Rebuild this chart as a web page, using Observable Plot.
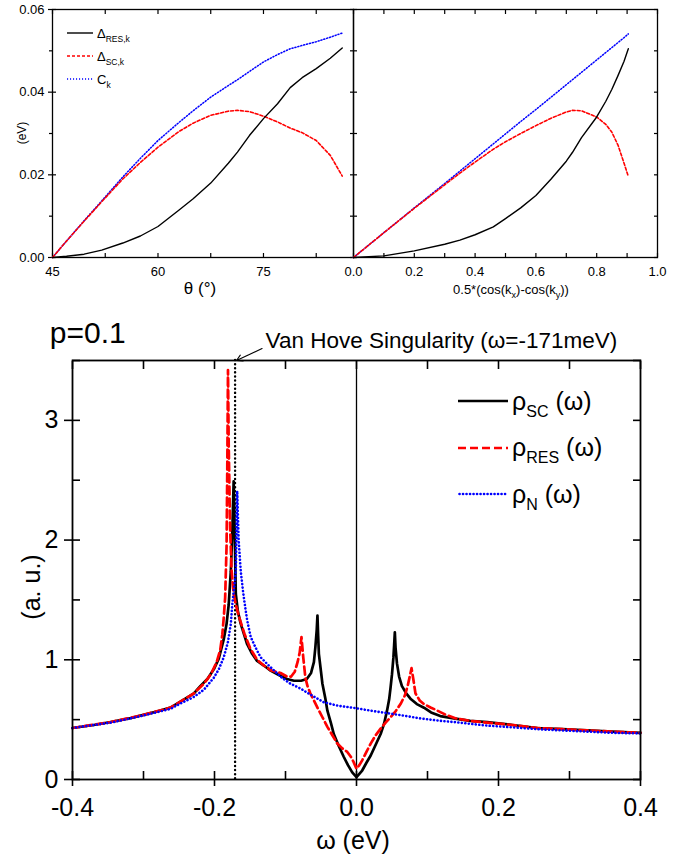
<!DOCTYPE html>
<html><head><meta charset="utf-8">
<script src="https://cdn.jsdelivr.net/npm/d3@7"></script>
<script src="https://cdn.jsdelivr.net/npm/@observablehq/plot@0.6"></script>
<style>
body{margin:0;background:#fff;}
#wrap{position:relative;width:691px;height:858px;overflow:hidden;font-family:"Liberation Sans",Arial,sans-serif;color:#000;}
.lbl{position:absolute;transform:translate(-50%,-50%);white-space:nowrap;line-height:1;}
.rot{transform:translate(-50%,-50%) rotate(-90deg);}
.row{position:absolute;left:0;display:flex;align-items:center;white-space:nowrap;line-height:1;}
.sub{position:relative;}
</style></head>
<body><div id="wrap"></div>
<script>
// ---------- Top-left panel: gap functions vs Fermi-surface angle θ ----------
const theta   = [45, 47, 49.5, 52, 55, 57.5, 60, 63, 65, 67.5, 70, 71.3, 73, 75, 77, 78.8, 80.5, 82.5, 84.5, 86.2];
const dResTheta = [0, 0.0003, 0.0008, 0.0018, 0.0035, 0.0052, 0.0075, 0.0115, 0.0142, 0.0180, 0.0228, 0.0255, 0.0295, 0.0336, 0.0372, 0.0411, 0.0435, 0.0457, 0.0482, 0.0507];
const dScTheta  = [0, 0.0040, 0.0088, 0.0135, 0.0190, 0.0230, 0.0267, 0.0305, 0.0325, 0.0344, 0.0354, 0.0356, 0.0353, 0.0342, 0.0328, 0.0313, 0.0302, 0.0283, 0.0247, 0.0197];
const ckTheta   = [0, 0.0040, 0.0089, 0.0137, 0.0195, 0.0240, 0.0283, 0.0327, 0.0355, 0.0388, 0.0416, 0.0430, 0.0450, 0.0473, 0.0491, 0.0505, 0.0513, 0.0522, 0.0533, 0.0543];
const thetaTicks  = [45, 52.5, 60, 67.5, 75, 82.5];
const thetaLabels = [45, 60, 75];
const thetaDomain = [45, 87.8];

// ---------- Top-right panel: vs 0.5*(cos kx - cos ky) ----------
const uVals   = [0, 0.1, 0.2, 0.3, 0.35, 0.4, 0.46, 0.5, 0.55, 0.6, 0.65, 0.7, 0.72, 0.75, 0.8, 0.83, 0.85, 0.87, 0.89, 0.904];
const dResU   = [0, 0.0004, 0.0016, 0.0032, 0.0042, 0.0055, 0.0074, 0.0094, 0.0120, 0.0150, 0.0190, 0.0233, 0.0254, 0.0290, 0.0340, 0.0378, 0.0407, 0.0440, 0.0475, 0.0505];
const dScU    = [0, 0.0060, 0.0119, 0.0176, 0.0204, 0.0231, 0.0262, 0.0280, 0.0300, 0.0319, 0.0337, 0.0352, 0.0356, 0.0355, 0.0340, 0.0322, 0.0303, 0.0272, 0.0228, 0.0196];
const ckU     = [0, 0.0060, 0.0120, 0.0179, 0.0209, 0.0239, 0.0275, 0.0299, 0.0329, 0.0358, 0.0388, 0.0418, 0.0430, 0.0448, 0.0478, 0.0496, 0.0508, 0.0520, 0.0532, 0.0541];
const uTicks  = [0, 0.1, 0.2, 0.3, 0.4, 0.5, 0.6, 0.7, 0.8, 0.9, 1.0];
const uLabels = [0, 0.2, 0.4, 0.6, 0.8, 1.0];

const gapMajor = [0, 0.02, 0.04, 0.06];
const gapMinor = [0.01, 0.03, 0.05];
const gapAll   = [0, 0.01, 0.02, 0.03, 0.04, 0.05, 0.06];

// ---------- Bottom panel: density of states, p = 0.1 ----------
const omegaSC = [-0.400,-0.370,-0.346,-0.320,-0.300,-0.280,-0.262,-0.248,-0.229,-0.220,-0.210,-0.201,-0.194,-0.187,-0.183,-0.180,-0.177,-0.175,-0.173,-0.171,-0.170,-0.167,-0.163,-0.154,-0.147,-0.140,-0.130,-0.121,-0.110,-0.098,-0.088,-0.078,-0.070,-0.064,-0.060,-0.058,-0.056,-0.055,-0.054,-0.053,-0.050,-0.048,-0.044,-0.041,-0.036,-0.032,-0.025,-0.018,-0.012,-0.006,0.000,0.008,0.014,0.020,0.027,0.034,0.039,0.043,0.046,0.048,0.050,0.052,0.053,0.054,0.055,0.057,0.060,0.064,0.070,0.076,0.085,0.095,0.105,0.118,0.137,0.160,0.184,0.220,0.255,0.290,0.325,0.360,0.400];
const rhoSC   = [0.43,0.455,0.48,0.51,0.54,0.57,0.60,0.65,0.72,0.78,0.84,0.92,1.01,1.17,1.30,1.46,1.74,2.05,2.49,1.90,1.55,1.40,1.30,1.13,1.05,0.99,0.95,0.91,0.875,0.84,0.825,0.825,0.84,0.89,0.98,1.10,1.25,1.37,1.20,1.05,0.90,0.80,0.68,0.575,0.47,0.38,0.28,0.19,0.12,0.06,0.02,0.075,0.14,0.20,0.29,0.38,0.47,0.575,0.67,0.77,0.88,1.02,1.12,1.23,1.10,0.97,0.86,0.78,0.72,0.675,0.63,0.60,0.56,0.53,0.51,0.49,0.48,0.455,0.43,0.42,0.41,0.40,0.39];

const omegaRES = [-0.400,-0.346,-0.300,-0.262,-0.248,-0.229,-0.215,-0.205,-0.197,-0.192,-0.189,-0.187,-0.185,-0.183,-0.182,-0.181,-0.180,-0.178,-0.176,-0.173,-0.170,-0.165,-0.158,-0.150,-0.140,-0.130,-0.120,-0.107,-0.098,-0.092,-0.087,-0.083,-0.080,-0.0775,-0.075,-0.072,-0.069,-0.065,-0.055,-0.048,-0.041,-0.034,-0.027,-0.020,-0.013,-0.008,-0.004,0.000,0.004,0.008,0.014,0.020,0.027,0.034,0.041,0.048,0.055,0.062,0.068,0.072,0.075,0.0775,0.080,0.083,0.089,0.095,0.105,0.114,0.126,0.140,0.160,0.184,0.220,0.255,0.290,0.325,0.360,0.400];
const rhoRES   = [0.43,0.48,0.54,0.60,0.65,0.72,0.80,0.88,0.98,1.08,1.21,1.35,1.52,1.95,2.60,3.42,2.80,2.10,1.75,1.55,1.46,1.35,1.22,1.10,1.00,0.95,0.91,0.89,0.86,0.86,0.90,0.98,1.06,1.19,1.02,0.85,0.78,0.72,0.60,0.52,0.44,0.37,0.30,0.26,0.23,0.19,0.145,0.09,0.12,0.16,0.23,0.30,0.37,0.425,0.475,0.52,0.57,0.63,0.70,0.78,0.86,0.93,0.84,0.72,0.66,0.63,0.60,0.575,0.54,0.51,0.49,0.475,0.455,0.43,0.42,0.41,0.40,0.39];

const omegaN = [-0.400,-0.346,-0.300,-0.262,-0.248,-0.229,-0.215,-0.201,-0.194,-0.187,-0.181,-0.177,-0.175,-0.172,-0.170,-0.168,-0.166,-0.163,-0.160,-0.158,-0.154,-0.149,-0.142,-0.135,-0.125,-0.116,-0.105,-0.093,-0.079,-0.065,-0.046,-0.025,0.000,0.025,0.048,0.070,0.090,0.118,0.137,0.160,0.184,0.220,0.255,0.290,0.325,0.360,0.400];
const rhoN   = [0.43,0.475,0.535,0.59,0.635,0.69,0.75,0.85,0.92,1.02,1.15,1.30,1.46,1.62,1.74,2.41,2.00,1.74,1.58,1.49,1.33,1.19,1.10,1.02,0.96,0.91,0.85,0.80,0.76,0.71,0.645,0.615,0.595,0.57,0.55,0.53,0.51,0.49,0.48,0.465,0.45,0.435,0.42,0.41,0.40,0.39,0.385];

const vhsOmega = [-0.171];
const zeroOmega = [0];
const omegaMajor = [-0.4, -0.2, 0, 0.2, 0.4];
const omegaAll   = [-0.4, -0.3, -0.2, -0.1, 0, 0.1, 0.2, 0.3, 0.4];
const rhoMajor   = [0, 1, 2, 3];
const rhoAll     = [0, 0.5, 1, 1.5, 2, 2.5, 3, 3.5];

// annotations (data coordinates)
const pLabel   = [{w: -0.432, r: 3.73, t: "p=0.1"}];
const vhsLabel = [{w: -0.128, r: 3.665, t: "Van Hove Singularity (\u03c9=-171meV)"}];
const vhsArrow = [{w1: -0.133, r1: 3.60, w2: -0.169, r2: 3.50}];

const FONT = "'Liberation Sans', Arial, sans-serif";
const wrap = document.getElementById("wrap");
const none = () => "";
const zip = (xs, ys) => xs.map((x, i) => ({x, y: ys[i]}));

// inward / outward tick helpers (tick marks only, no labels)
const outL = (ticks, s, w = 1) => Plot.axisY({ticks, tickSize: s, tickFormat: none, label: null, strokeWidth: w});
const inL  = (ticks, s, w = 1) => Plot.axisY({ticks, tickSize: s, dx: s, tickFormat: none, label: null, strokeWidth: w});
const inR  = (ticks, s, w = 1) => Plot.axisY({anchor: "right", ticks, tickSize: s, dx: -s, tickFormat: none, label: null, strokeWidth: w});
const outB = (ticks, s, w = 1) => Plot.axisX({ticks, tickSize: s, tickFormat: none, label: null, strokeWidth: w});
const inB  = (ticks, s, w = 1) => Plot.axisX({ticks, tickSize: s, dy: -s, tickFormat: none, label: null, strokeWidth: w});
const inT  = (ticks, s, w = 1) => Plot.axisX({anchor: "top", ticks, tickSize: s, dy: s, tickFormat: none, label: null, strokeWidth: w});

function place(svg, left, top) {
  svg.style.position = "absolute";
  svg.style.left = left + "px";
  svg.style.top = top + "px";
  wrap.appendChild(svg);
}

const topLines = (xs, res, sc, ck) => [
  Plot.line(zip(xs, ck), {x: "x", y: "y", stroke: "#0000ff", strokeWidth: 1.5, strokeDasharray: "1.1,1.9"}),
  Plot.line(zip(xs, sc), {x: "x", y: "y", stroke: "#ff0000", strokeWidth: 1.6, strokeDasharray: "3,2"}),
  Plot.line(zip(xs, res), {x: "x", y: "y", stroke: "#000", strokeWidth: 1.4})
];

// Top-left
const tl = Plot.plot({
  width: 360, height: 300, marginLeft: 52, marginRight: 7, marginTop: 9, marginBottom: 43,
  x: {domain: thetaDomain}, y: {domain: [0, 0.06]},
  style: {fontFamily: FONT, fontSize: "13px", color: "#000", background: "transparent", overflow: "visible"},
  marks: [
    outL(gapMajor, 4, 1.2), inL(gapMajor, 4, 1.2), outL(gapMinor, 3, 1.2),
    Plot.axisY({ticks: gapMajor, tickSize: 0, tickPadding: 8, tickFormat: d => d.toFixed(2), label: null}),
    inR(gapAll, 4, 1.2),
    inB(thetaTicks, 4, 1.2), inT(thetaTicks, 4, 1.2),
    Plot.axisX({ticks: thetaLabels, tickSize: 0, tickPadding: 9, tickFormat: d => String(d), label: null}),
    Plot.frame({stroke: "#000", strokeWidth: 1.3}),
    ...topLines(theta, dResTheta, dScTheta, ckTheta)
  ]
});
place(tl, 0, 0);

// Top-right
const tr = Plot.plot({
  width: 351, height: 300, marginLeft: 13, marginRight: 34, marginTop: 9, marginBottom: 43,
  x: {domain: [0, 1]}, y: {domain: [0, 0.06]},
  style: {fontFamily: FONT, fontSize: "13px", color: "#000", background: "transparent", overflow: "visible"},
  marks: [
    inL(gapAll, 4, 1.2), inR(gapAll, 4, 1.2),
    inB(uTicks, 4, 1.2), inT(uTicks, 4, 1.2),
    Plot.axisX({ticks: uLabels, tickSize: 0, tickPadding: 9, tickFormat: d => d.toFixed(1), label: null}),
    Plot.frame({stroke: "#000", strokeWidth: 1.3}),
    ...topLines(uVals, dResU, dScU, ckU)
  ]
});
place(tr, 340, 0);

// Bottom
const bt = Plot.plot({
  width: 691, height: 558, marginLeft: 72, marginRight: 51, marginTop: 60, marginBottom: 79,
  x: {domain: [-0.4, 0.4]}, y: {domain: [0, 3.5]},
  style: {fontFamily: FONT, fontSize: "25px", color: "#000", background: "transparent", overflow: "visible"},
  marks: [
    outL(rhoMajor, 8, 1.6), inL(rhoAll, 8, 1.6),
    Plot.axisY({ticks: rhoMajor, tickSize: 0, tickPadding: 14, tickFormat: d => String(d), label: null}),
    inR(rhoAll, 8, 1.6),
    outB(omegaMajor, 7, 1.6), inB(omegaAll, 8, 1.6), inT(omegaAll, 8, 1.6),
    Plot.axisX({ticks: omegaMajor, tickSize: 0, tickPadding: 19, tickFormat: d => d.toFixed(1), label: null}),
    Plot.ruleX(zeroOmega, {stroke: "#000", strokeWidth: 1.3}),
    Plot.ruleX(vhsOmega, {stroke: "#000", strokeWidth: 2.4, strokeDasharray: "0.1,4", strokeLinecap: "round"}),
    Plot.line(zip(omegaSC, rhoSC), {x: "x", y: "y", stroke: "#000", strokeWidth: 2.7}),
    Plot.line(zip(omegaRES, rhoRES), {x: "x", y: "y", stroke: "#ff0000", strokeWidth: 2.7, strokeDasharray: "8,4"}),
    Plot.line(zip(omegaN, rhoN), {x: "x", y: "y", stroke: "#0000ff", strokeWidth: 2.6, strokeDasharray: "0.1,3.4", strokeLinecap: "round"}),
    Plot.frame({stroke: "#000", strokeWidth: 1.8}),
    Plot.text(pLabel, {x: "w", y: "r", text: "t", textAnchor: "start", lineAnchor: "middle", fontSize: 30, fill: "#000"}),
    Plot.text(vhsLabel, {x: "w", y: "r", text: "t", textAnchor: "start", lineAnchor: "middle", fontSize: 22.5, fill: "#000"}),
    Plot.arrow(vhsArrow, {x1: "w1", y1: "r1", x2: "w2", y2: "r2", stroke: "#000", strokeWidth: 1.1, headLength: 9})
  ]
});
place(bt, 0, 300);

// ---------- HTML text: axis titles & legends ----------
function label(html, x, y, size, rot) {
  const d = document.createElement("div");
  d.className = "lbl" + (rot ? " rot" : "");
  d.style.left = x + "px"; d.style.top = y + "px"; d.style.fontSize = size + "px";
  d.innerHTML = html;
  wrap.appendChild(d);
}
const sub = (t, size, off) => `<span class="sub" style="font-size:${size}px;top:${off}px">${t}</span>`;

label("\u03b8 (\u00b0)", 200, 288, 17);
label(`0.5*(cos(k${sub("x", 9, 4)})-cos(k${sub("y", 9, 4)}))`, 511, 289, 13);
label("(eV)", 22, 133, 12, true);
label("(a. u.)", 31, 587, 25, true);
label("\u03c9 (eV)", 353, 840, 25);

function legend(items, left, top, rowH, swW, fontSize) {
  items.forEach((it, i) => {
    const row = document.createElement("div");
    row.className = "row";
    row.style.left = left + "px";
    row.style.top = (top + i * rowH - 15) + "px";
    row.style.height = "30px";
    row.style.fontSize = fontSize + "px";
    const cap = it.cap || "butt";
    row.innerHTML = `<svg width="${swW}" height="10" style="margin-right:${it.gap}px;overflow:visible"><line x1="${it.x0 || 0}" x2="${swW}" y1="5" y2="5" stroke="${it.color}" stroke-width="${it.w}" stroke-dasharray="${it.dash}" stroke-linecap="${cap}"/></svg><span>${it.html}</span>`;
    wrap.appendChild(row);
  });
}

const topSeries = [
  {color: "#000", w: 1.4, dash: "none", gap: 4, html: `\u0394${sub("RES,k", 8.5, 4)}`},
  {color: "#ff0000", w: 1.6, dash: "3,2", gap: 4, html: `\u0394${sub("SC,k", 8.5, 4)}`},
  {color: "#0000ff", w: 1.5, dash: "1.1,1.9", gap: 4, html: `C${sub("k", 8.5, 4)}`}
];
legend(topSeries, 67, 33, 23, 26, 13);

const botSeries = [
  {color: "#000", w: 2.7, dash: "none", gap: 4, html: `\u03c1${sub("SC", 16, 7)} (\u03c9)`},
  {color: "#ff0000", w: 2.7, dash: "8,4", gap: 4, html: `\u03c1${sub("RES", 16, 7)} (\u03c9)`},
  {color: "#0000ff", w: 2.6, dash: "0.1,3.4", cap: "round", x0: 1.5, gap: 4, html: `\u03c1${sub("N", 16, 7)} (\u03c9)`}
];
legend(botSeries, 458, 401, 46.5, 50, 25);
</script>
</body></html>
